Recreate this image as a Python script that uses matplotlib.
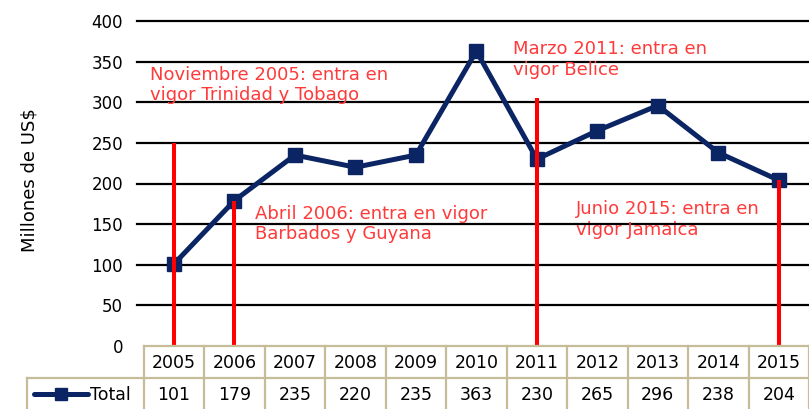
import matplotlib
matplotlib.use("Agg")
import matplotlib.pyplot as plt
import matplotlib.transforms as mtransforms
from matplotlib.lines import Line2D

years = ["2005", "2006", "2007", "2008", "2009", "2010", "2011", "2012", "2013", "2014", "2015"]
totals = [101, 179, 235, 220, 235, 363, 230, 265, 296, 238, 204]
series_name = "Total"
ylabel = "Millones de US$"
yticks = [0, 50, 100, 150, 200, 250, 300, 350, 400]

# red event markers: (year, top value)
event_years = ["2005", "2006", "2011", "2015"]
event_tops = [250, 178, 305, 204]
event_texts = ["Noviembre 2005: entra en\nvigor Trinidad y Tobago",
               "Abril 2006: entra en vigor\nBarbados y Guyana",
               "Marzo 2011: entra en\nvigor Belice",
               "Junio 2015: entra en\nvigor Jamaica"]
# annotation anchors in data coords (x index, y value) for top-left of text
event_text_pos = [(-0.4, 345), (1.34, 174), (5.61, 376), (6.64, 180)]

W, H = 809, 409
fig = plt.figure(figsize=(W / 100, H / 100), dpi=100)
ax_left = 143.75 / W
ax_bottom = (H - 346) / H
ax_top = (H - 21) / H
ax = fig.add_axes([ax_left, ax_bottom, 1.0 - ax_left, ax_top - ax_bottom])

navy = "#0B2463"
red = "#FF0000"
txt_red = "#FF3A3A"
border = "#C4BD97"
tfont = "DejaVu Sans"
fs_tick = 12
fs_tab = 12.5

x = list(range(len(years)))
ax.set_xlim(-0.5, len(years) - 0.5)
ax.set_ylim(0, 400)
ax.set_yticks(yticks)
ax.set_yticklabels([str(v) for v in yticks], fontsize=fs_tick, family="DejaVu Sans")
ax.tick_params(axis="y", length=0, pad=15)
ax.set_xticks([])
for s in ax.spines.values():
    s.set_visible(False)
for v in yticks[1:]:
    ax.axhline(v, color="black", lw=1.6, zorder=1, xmin=-0.01, clip_on=False)

ax.plot(x, totals, color=navy, lw=3.6, marker="s", markersize=10, zorder=3)

for yr, top in zip(event_years, event_tops):
    xi = years.index(yr)
    ax.plot([xi, xi], [0, top], color=red, lw=2.9, zorder=4, solid_capstyle="butt")

for t, (tx, ty) in zip(event_texts, event_text_pos):
    ax.text(tx, ty, t, color=txt_red, fontsize=13, family="DejaVu Sans",
            va="top", ha="left", linespacing=1.2, zorder=5)

fig.text(30 / W, 1 - 180 / H, ylabel, rotation=90, va="center", ha="center",
         fontsize=13, family=tfont)

# data table below the axes
trans = mtransforms.blended_transform_factory(ax.transData, fig.transFigure)
y0 = (H - 346) / H
y1 = (H - 378) / H
y2 = -0.05
xr = len(years) - 0.5
fig.add_artist(Line2D([-0.5, xr], [y0, y0], transform=trans, color=border, lw=1.6))
fig.add_artist(Line2D([27 / W, 1.0], [y1, y1], transform=fig.transFigure, color=border, lw=1.6))
for i in range(len(years) + 1):
    xb = i - 0.5
    fig.add_artist(Line2D([xb, xb], [y0, y2], transform=trans, color=border, lw=1.6))
fig.add_artist(Line2D([27 / W, 27 / W], [y1, y2], transform=fig.transFigure, color=border, lw=1.6))

for i, yr in enumerate(years):
    fig.text(i, (y0 + y1) / 2 - 0.002, yr, transform=trans, ha="center", va="center",
             fontsize=fs_tab, family=tfont)
    fig.text(i, (y1 + 0) / 2 - 0.004, str(totals[i]), transform=trans, ha="center", va="center",
             fontsize=fs_tab, family=tfont)

# legend key in table
ly = (y1 + 0) / 2 - 0.002
fig.add_artist(Line2D([34 / W, 88 / W], [ly, ly], transform=fig.transFigure, color=navy, lw=3.6,
                      solid_capstyle="round"))
fig.add_artist(Line2D([61 / W], [ly], transform=fig.transFigure, color=navy, marker="s", markersize=8))
fig.text(90 / W, ly - 0.002, series_name, ha="left", va="center", fontsize=fs_tab, family=tfont)

fig.savefig("out.png", dpi=100)
